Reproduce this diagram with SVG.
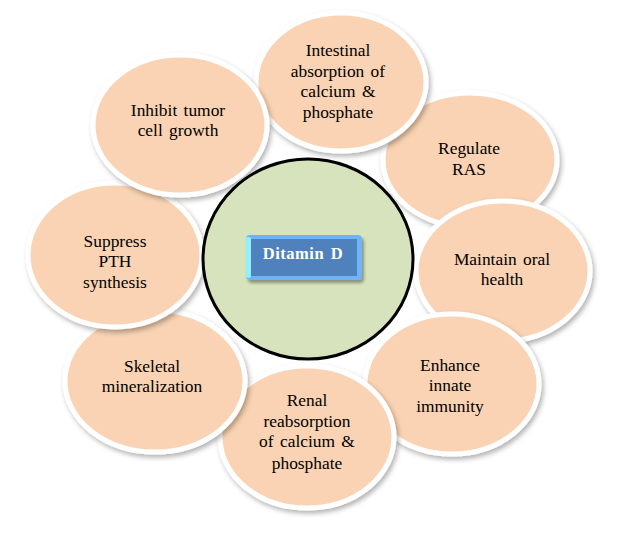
<svg xmlns="http://www.w3.org/2000/svg" width="640" height="534" viewBox="0 0 640 534">
<defs>
<filter id="sh" x="-20%" y="-20%" width="140%" height="140%">
<feDropShadow dx="2" dy="3" stdDeviation="2.5" flood-color="#000" flood-opacity="0.3"/>
</filter>
<filter id="sh2" x="-20%" y="-30%" width="140%" height="160%">
<feDropShadow dx="2" dy="3" stdDeviation="1.5" flood-color="#000" flood-opacity="0.35"/>
</filter>
</defs>
<style>
.pet{fill:#F9D3B3;stroke:#FFFFFF;stroke-width:5;filter:url(#sh)}
.core{fill:#D7E3BC;stroke:#000;stroke-width:3}
</style>
<rect width="640" height="534" fill="#FFFFFF"/>
<g id="connectors"/>
<g font-family="Liberation Serif, DejaVu Serif, serif" font-size="17.4" text-anchor="middle" word-spacing="2" fill="#000">
<g id="regulate">
<ellipse class="pet" cx="470" cy="160" rx="87" ry="67"/>
<text x="469" y="154">Regulate</text>
<text x="469" y="175">RAS</text>
</g>
<g id="intestinal">
<ellipse class="pet" cx="341" cy="82" rx="85" ry="69"/>
<text x="338" y="56">Intestinal</text>
<text x="338" y="77">absorption of</text>
<text x="338" y="97">calcium &amp;</text>
<text x="338" y="118">phosphate</text>
</g>
<g id="maintain">
<ellipse class="pet" cx="503" cy="271" rx="87" ry="70"/>
<text x="502" y="265">Maintain oral</text>
<text x="502" y="285">health</text>
</g>
<g id="enhance">
<ellipse class="pet" cx="452" cy="384" rx="87" ry="70"/>
<text x="450" y="371">Enhance</text>
<text x="450" y="391">innate</text>
<text x="450" y="412">immunity</text>
</g>
<g id="renal">
<ellipse class="pet" cx="307" cy="437" rx="87" ry="71"/>
<text x="307" y="406">Renal</text>
<text x="307" y="427">reabsorption</text>
<text x="307" y="447">of calcium &amp;</text>
<text x="307" y="469">phosphate</text>
</g>
<g id="skeletal">
<ellipse class="pet" cx="155" cy="381" rx="90" ry="71"/>
<text x="152" y="372">Skeletal</text>
<text x="152" y="392">mineralization</text>
</g>
<g id="suppress">
<ellipse class="pet" cx="115" cy="255" rx="87" ry="72"/>
<text x="115" y="247">Suppress</text>
<text x="115" y="267">PTH</text>
<text x="115" y="288">synthesis</text>
</g>
<g id="inhibit">
<ellipse class="pet" cx="180" cy="125" rx="87" ry="70"/>
<text x="178" y="116">Inhibit tumor</text>
<text x="178" y="136">cell growth</text>
</g>
<g id="vitamin">
<ellipse class="core" cx="308" cy="259" rx="105" ry="100"/>
<g filter="url(#sh2)">
<rect x="246" y="235" width="116" height="45" rx="4" fill="#6FB4F8"/>
<rect x="246" y="237" width="5" height="41" rx="2" fill="#8FF0FF"/>
<rect x="251" y="239" width="106" height="37" fill="#4F81BD"/>
</g>
<text x="303" y="259" font-size="16.5" font-weight="bold" fill="#FFFFFF" letter-spacing="0.5">Ditamin D</text>
</g>
</g>
</svg>
